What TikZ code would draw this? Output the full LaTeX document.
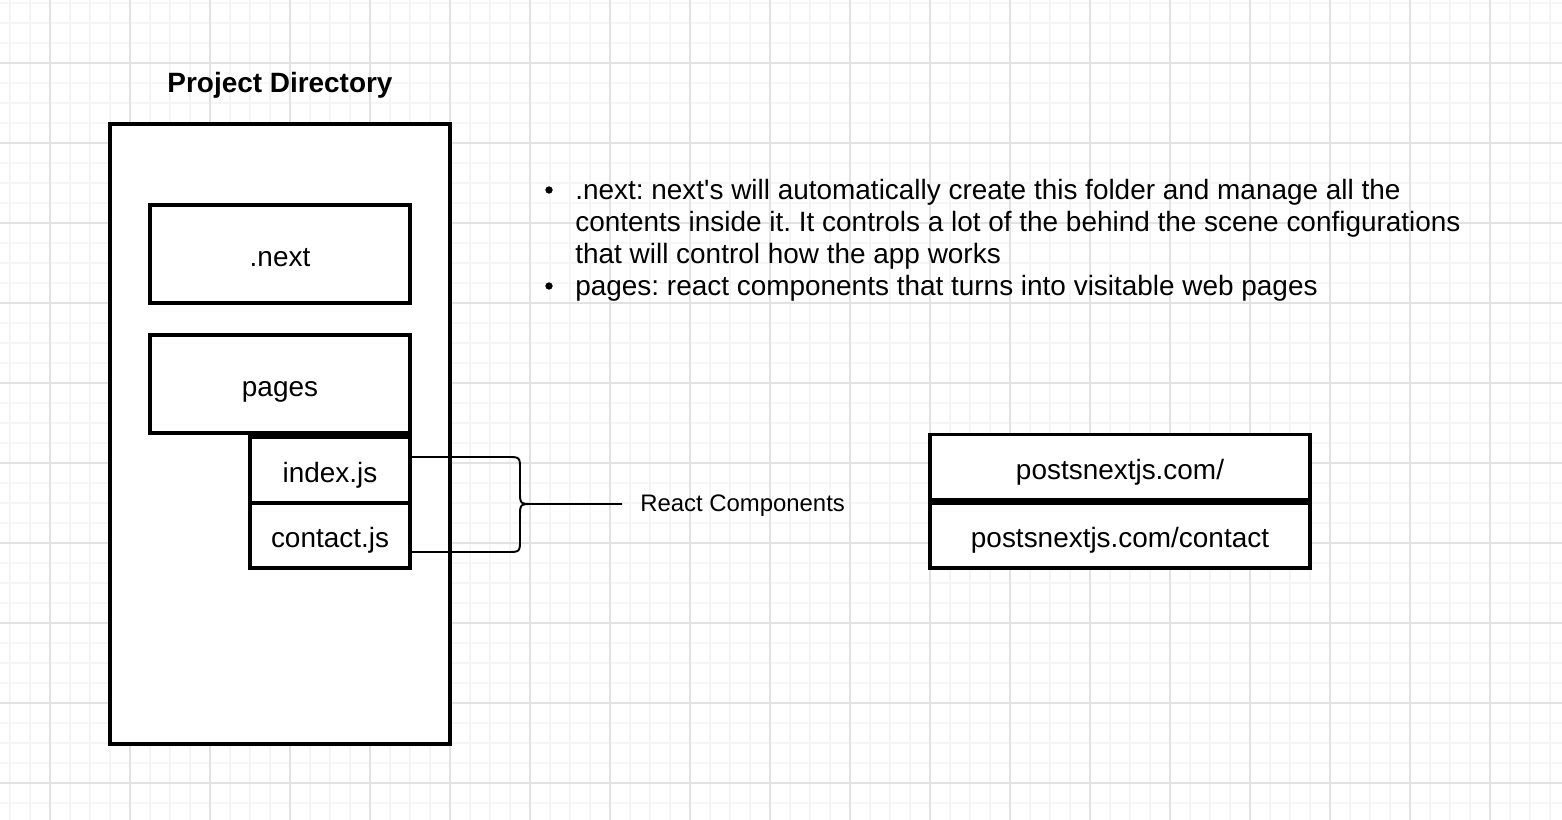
\documentclass[tikz,border=0pt]{standalone}
\usepackage{fontspec}
\setmainfont{Liberation Sans}[Ligatures=TeXOff]
\usepackage{xcolor}
\usepackage{tikz}

\definecolor{gridminor}{HTML}{F5F5F5}
\definecolor{gridmajor}{HTML}{E2E2E2}
\newcommand{\mainsize}{\fontsize{15.9pt}{18.1pt}\selectfont\frenchspacing}
\newcommand{\smallsize}{\fontsize{13.6pt}{16pt}\selectfont}
\tikzstyle{minorline} = [gridminor,line width=0.6pt]
\tikzstyle{majorline} = [gridmajor,line width=0.6pt]
\tikzstyle{folder} = [draw,line width=2.2pt,fill=white,font=\mainsize,inner sep=0pt,text height=14pt,text depth=0pt]
\tikzstyle{brace} = [line width=1.1pt,line join=round]

\begin{document}
\begin{tikzpicture}[x=0.02cm,y=-0.02cm]
                \useasboundingbox (0,0) rectangle (1562,820);
                \fill[white] (0,0) rectangle (1562,820);
                % grid paper
                \foreach \gx in {10,30,...,1550} \draw[minorline] (\gx,0) -- (\gx,820);
                \foreach \gy in {3,23,...,803} \draw[minorline] (0,\gy) -- (1562,\gy);
                \foreach \gx in {50,130,...,1530} \draw[majorline] (\gx,0) -- (\gx,820);
                \foreach \gy in {63,143,...,783} \draw[majorline] (0,\gy) -- (1562,\gy);
                % project directory
                \node[font=\mainsize\bfseries] (title) at (280,85) {Project Directory};
                \node[folder,minimum width=6.8cm,minimum height=12.4cm] (projdir) at (280,434) {};
                \node[folder,minimum width=5.2cm,minimum height=1.96cm] (nextdir) at (280,254) {.next};
                \node[folder,minimum width=5.2cm,minimum height=1.96cm] (pagesdir) at (280,384) {pages};
                \node[folder,minimum width=3.2cm,minimum height=1.32cm] (indexjs) at (330,470) {index.js};
                \node[folder,minimum width=3.2cm,minimum height=1.3cm] (contactjs) at (330,535.5) {contact.js};
                % brace
                \coordinate (bracetip) at (533,504);
                \node[font=\smallsize,anchor=west,inner ysep=0pt,inner xsep=0.36cm,text height=9.1pt,text depth=0pt] (reactlabel) at (622,504) {React Components};
                \draw[brace] ([yshift=0.26cm]indexjs.east) -- (507,457) .. controls (520,457) .. (520,470) -- (520,491) .. controls (520,504) .. (bracetip) -- (reactlabel.west);
                \draw[brace] ([yshift=-0.33cm]contactjs.east) -- (507,552) .. controls (520,552) .. (520,539) -- (520,517) .. controls (520,504) .. (bracetip);
                % notes
                \draw[fill=black] (549,190) circle (0.065cm);
                \draw[fill=black] (549,286) circle (0.065cm);
                \node[font=\mainsize,align=left,anchor=north west,inner sep=0pt] (nextnote) at (575,179) {.next: next's will automatically create this folder and manage all the\\contents inside it. It controls a lot of the behind the scene configurations\\that will control how the app works};
                \node[font=\mainsize,align=left,anchor=north west,inner sep=0pt] (pagesnote) at (575,275) {pages: react components that turns into visitable web pages};
                % urls
                \node[folder,minimum width=7.6cm,minimum height=1.3cm] (homeurl) at (1120,467) {postsnextjs.com/};
                \node[folder,minimum width=7.6cm,minimum height=1.3cm] (contacturl) at (1120,535.5) {postsnextjs.com/contact};
            \end{tikzpicture}
\end{document}
